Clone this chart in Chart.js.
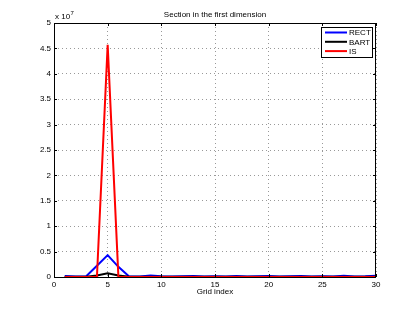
<!DOCTYPE html>
<html><head><meta charset="utf-8">
<script src="https://cdn.jsdelivr.net/npm/chart.js@4"></script>
<style>html,body{margin:0;padding:0;background:#fff}#wrap{width:415px;height:312px}</style>
</head><body><div id="wrap"><canvas id="c" width="415" height="312"></canvas></div>
<script>
const gridIndex = Array.from({length:30},(_,i)=>i+1);
const rectVals = [0.02,0.01,0.015,0.22,0.43,0.2,0.01,0.01,0.03,0.015,0.01,0.015,0.02,0.01,0.015,0.01,0.02,0.01,0.015,0.02,0.01,0.015,0.02,0.01,0.015,0.01,0.025,0.01,0.015,0.025].map(v=>v*1e7);
const bartVals = [0.005,0.003,0.005,0.03,0.072,0.03,0.003,0.003,0.004,0.003,0.003,0.003,0.004,0.003,0.003,0.003,0.004,0.003,0.003,0.004,0.003,0.003,0.004,0.003,0.003,0.003,0.004,0.003,0.003,0.004].map(v=>v*1e7);
const isVals = [0.001,0.001,0.001,0.004,4.57,0.004,0.001,0.001,0.001,0.001,0.001,0.001,0.001,0.001,0.001,0.001,0.001,0.001,0.001,0.001,0.001,0.001,0.001,0.001,0.001,0.001,0.001,0.001,0.001,0.001].map(v=>v*1e7);
const xTicks = [0,5,10,15,20,25,30];
const yTicks = [0,0.5,1,1.5,2,2.5,3,3.5,4,4.5,5];
const seriesNames = ['RECT','BART','IS'];
const seriesColors = ['#0000ff','#000000','#ff0000'];
const FONT = 'Liberation Sans, Arial, Helvetica, sans-serif';

function pts(vals){return gridIndex.map((x,i)=>({x:x,y:vals[i]}));}

const overlay = {
  id:'overlay',
  afterDraw(chart){
    const ctx = chart.ctx, a = chart.chartArea;
    const xs = chart.scales.x, ys = chart.scales.y;
    ctx.save();
    ctx.strokeStyle = '#000'; ctx.lineWidth = 1;
    ctx.strokeRect(Math.round(a.left)+0.5, Math.round(a.top)+0.5, Math.round(a.right-a.left)-1, Math.round(a.bottom-a.top));
    ctx.beginPath();
    xTicks.forEach(t=>{const p=Math.round(xs.getPixelForValue(t))+0.5;
      ctx.moveTo(p,a.bottom); ctx.lineTo(p,a.bottom-3);
      ctx.moveTo(p,a.top); ctx.lineTo(p,a.top+3);});
    yTicks.forEach(t=>{const p=Math.round(ys.getPixelForValue(t*1e7))+0.5;
      ctx.moveTo(a.left,p); ctx.lineTo(a.left+3,p);
      ctx.moveTo(a.right,p); ctx.lineTo(a.right-3,p);});
    ctx.stroke();
    ctx.fillStyle='#000'; ctx.font='8px '+FONT; ctx.textBaseline='alphabetic'; ctx.textAlign='left';
    ctx.fillText('x 10', a.left+1, a.top-4);
    const w = ctx.measureText('x 10').width;
    ctx.font='6px '+FONT; ctx.fillText('7', a.left+1+w+0.5, a.top-8);
    ctx.font='8px '+FONT; ctx.textAlign='center';
    ctx.fillText('Section in the first dimension', (a.left+a.right)/2, 17);
    const lx=321, ly=27, lw=51, lh=30;
    ctx.fillStyle='#fff'; ctx.fillRect(lx,ly,lw,lh);
    ctx.strokeStyle='#000'; ctx.lineWidth=1; ctx.strokeRect(lx+0.5,ly+0.5,lw,lh);
    ctx.font='8px '+FONT; ctx.textAlign='left'; ctx.textBaseline='middle';
    chart.data.datasets.slice().sort((p,q)=>p.legendIdx-q.legendIdx).forEach((ds,i)=>{
      const yy = ly+5.5+i*9.3;
      ctx.strokeStyle=ds.borderColor; ctx.lineWidth=2;
      ctx.beginPath(); ctx.moveTo(325,yy); ctx.lineTo(347,yy); ctx.stroke();
      ctx.fillStyle='#000'; ctx.fillText(ds.label, 349, yy+0.5);
    });
    ctx.restore();
  }
};

new Chart(document.getElementById('c'), {
  type:'line',
  data:{datasets:[
    {label:seriesNames[2], data:pts(isVals), borderColor:seriesColors[2], order:0, legendIdx:2},
    {label:seriesNames[1], data:pts(bartVals), borderColor:seriesColors[1], order:1, legendIdx:1},
    {label:seriesNames[0], data:pts(rectVals), borderColor:seriesColors[0], order:2, legendIdx:0}
  ]},
  options:{
    responsive:false, animation:false, devicePixelRatio:1,
    layout:{padding:{top:23,right:39,left:0,bottom:15}},
    elements:{line:{borderWidth:2,tension:0},point:{radius:0}},
    plugins:{legend:{display:false},title:{display:false},tooltip:{enabled:false}},
    scales:{
      x:{type:'linear',min:0,max:30,
        afterFit(s){s.height=20;},
        afterBuildTicks(s){s.ticks=xTicks.map(v=>({value:v}));},
        grid:{color:'#999',drawTicks:false,lineWidth:1},
        border:{display:false,dash:[1,3]},
        ticks:{color:'#000',font:{family:FONT,size:8},padding:3,maxRotation:0},
        title:{display:true,text:'Grid index',color:'#000',font:{family:FONT,size:8},padding:{top:0,bottom:0}}
      },
      y:{type:'linear',min:0,max:5e7,
        afterFit(s){s.width=54;},
        afterBuildTicks(s){s.ticks=yTicks.map(v=>({value:v*1e7}));},
        grid:{color:'#999',drawTicks:false,lineWidth:1},
        border:{display:false,dash:[1,3]},
        ticks:{color:'#000',font:{family:FONT,size:8},padding:3,callback:v=>String(v/1e7)}
      }
    }
  },
  plugins:[overlay]
});
</script></body></html>
